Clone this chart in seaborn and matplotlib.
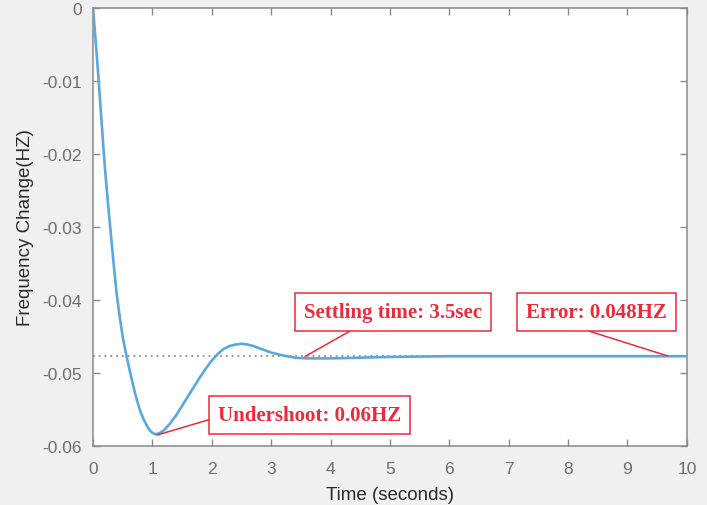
import numpy as np
import pandas as pd
import matplotlib
matplotlib.use('Agg')
import matplotlib.pyplot as plt
import seaborn as sns

# =====================================================
# DATA
# =====================================================
time_s = [0.0, 0.05, 0.1, 0.15, 0.2, 0.25, 0.3, 0.35, 0.4, 0.45, 0.5, 0.55, 0.6,
          0.65, 0.7, 0.75, 0.8, 0.85, 0.9, 0.95, 1.0, 1.05, 1.1, 1.15, 1.2, 1.3,
          1.4, 1.5, 1.6, 1.7, 1.8, 1.9, 2.0, 2.1, 2.2, 2.3, 2.4, 2.5, 2.6, 2.7,
          2.8, 2.9, 3.0, 3.2, 3.4, 3.6, 3.8, 4.0, 4.5, 5.0, 6.0, 7.0, 8.0, 9.0, 10.0]
freq_change = [0.0, -0.0050, -0.0104, -0.0162, -0.0218, -0.0265, -0.0309, -0.0352,
               -0.0392, -0.0423, -0.0450, -0.0471, -0.0490, -0.0508, -0.0525,
               -0.0540, -0.0553, -0.0563, -0.0571, -0.0578, -0.0582, -0.0584,
               -0.0583, -0.0581, -0.0578, -0.0569, -0.0558, -0.0545, -0.0532,
               -0.0519, -0.0506, -0.0494, -0.0483, -0.0474, -0.0467, -0.0463,
               -0.0461, -0.0460, -0.0461, -0.0463, -0.0466, -0.0469, -0.0472,
               -0.0476, -0.0479, -0.0480, -0.0480, -0.0480, -0.0479, -0.0478,
               -0.0477, -0.0477, -0.0477, -0.0477, -0.0477]
final_value = -0.0477

x_ticks = [0, 1, 2, 3, 4, 5, 6, 7, 8, 9, 10]
y_ticks = [0, -0.01, -0.02, -0.03, -0.04, -0.05, -0.06]
y_tick_labels = ['0', '-0.01', '-0.02', '-0.03', '-0.04', '-0.05', '-0.06']

notes = [
    # text, text position, point on curve, line attach (fraction of box)
    ('Settling time: 3.5sec', (5.05, -0.04164), (3.57, -0.04774), (0.35, 0.0)),
    ('Undershoot: 0.06HZ', (3.65, -0.05575), (1.08, -0.05850), (0.0, 0.4)),
    ('Error: 0.048HZ', (8.48, -0.04164), (9.68, -0.04767), (0.24, 0.0)),
]

df = pd.DataFrame({'t': time_s, 'f': freq_change})

# =====================================================
# STYLE
# =====================================================
sns.set_theme(style='ticks')
plt.rcParams['font.family'] = ['Liberation Sans', 'DejaVu Sans']
plt.rcParams['axes.unicode_minus'] = False

red = '#ee2a3a'
axis_gray = '#8a8a8a'
tick_gray = '#6e6e6e'

fig = plt.figure(figsize=(7.07, 5.06), dpi=100, facecolor='#f0f0f0')
ax = fig.add_axes([0.1315, 0.1166, 0.840, 0.8656])
ax.set_facecolor('white')

ax.axhline(final_value, color='#8c8c8c', linestyle=(0, (1, 2.2)), linewidth=1.3, zorder=1)
sns.lineplot(ax=ax, data=df, x='t', y='f', color='#5aa8dc', linewidth=1.9, zorder=3)

for text, xytext, xy, rel in notes:
    ax.annotate(
        text, xy=xy, xytext=xytext, textcoords='data',
        ha='center', va='center', fontsize=15, fontweight='bold',
        family=['Liberation Serif', 'DejaVu Serif'], color=red, zorder=5,
        bbox=dict(boxstyle='square,pad=0.42', fc='white', ec=red, lw=1.1),
        arrowprops=dict(arrowstyle='-', color=red, lw=1.1, relpos=rel,
                        shrinkA=0, shrinkB=0),
    )

ax.set_xlim(0, 10)
ax.set_ylim(-0.06, 0)
ax.set_xticks(x_ticks)
ax.set_yticks(y_ticks)
ax.set_yticklabels(y_tick_labels)
ax.tick_params(direction='in', length=5, width=1, color=axis_gray,
               labelcolor=tick_gray, labelsize=12.5, top=True, right=True)
ax.tick_params(axis='x', pad=11)
ax.tick_params(axis='y', pad=8)
for s in ax.spines.values():
    s.set_color(axis_gray)
    s.set_linewidth(1.1)

ax.set_xlabel('Time (seconds)', fontsize=13.5, color='#2a2a2a', labelpad=7)
ax.set_ylabel('Frequency Change(HZ)', fontsize=13.5, color='#2a2a2a', labelpad=6)

fig.savefig('out.png', dpi=100, facecolor=fig.get_facecolor())
